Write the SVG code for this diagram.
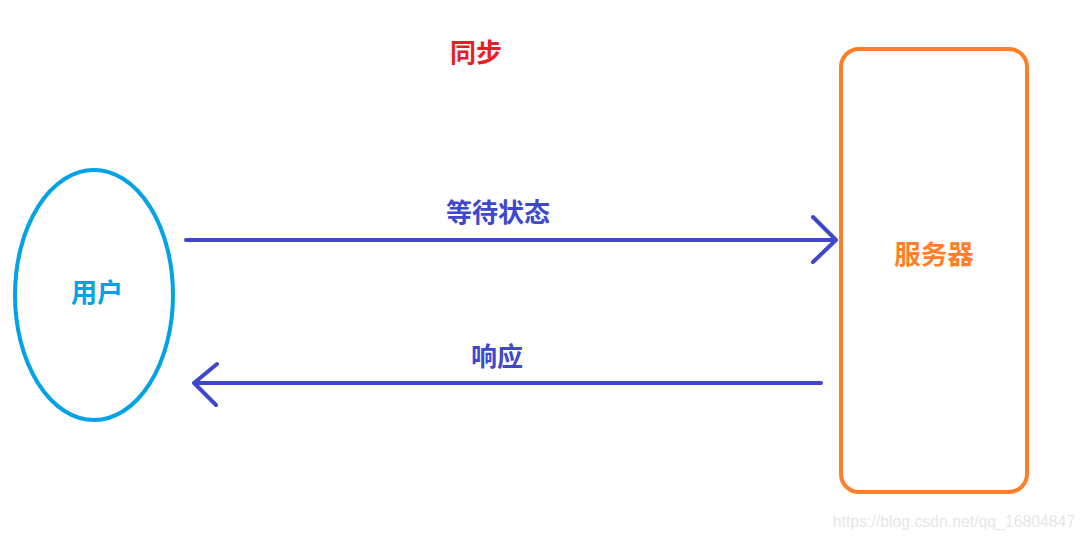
<svg xmlns="http://www.w3.org/2000/svg" width="1084" height="539" viewBox="0 0 1084 539">
<style>
text{font-family:"Noto Sans CJK SC","Noto Sans",sans-serif;font-weight:bold;text-anchor:middle;dominant-baseline:central}
.conn{stroke:#3f48cc;stroke-width:4;fill:none;stroke-linecap:round;stroke-linejoin:round}
.lbl{fill:#3f48cc;font-size:26px}
</style>
<rect width="1084" height="539" fill="#fff"/>
<text x="476" y="50" fill="#ed1c24" font-size="26">同步</text>
<g id="user">
<ellipse cx="94" cy="295" rx="79" ry="125" fill="none" stroke="#00a2e8" stroke-width="4"/>
<text x="97" y="290" fill="#00a2e8" font-size="26">用户</text>
</g>
<g id="server">
<rect x="841" y="49" width="186" height="443" rx="18" fill="none" stroke="#ff7f27" stroke-width="4"/>
<text x="934" y="252" fill="#ff7f27" font-size="26.5">服务器</text>
</g>
<g id="connectors">
<path class="conn" d="M186 240H836M813 217L836 240L813 262"/>
<text class="lbl" x="498" y="210">等待状态</text>
<path class="conn" d="M821 383H194M217 364L194 383L216 405"/>
<text class="lbl" x="497" y="354">响应</text>
</g>
<text x="954" y="521" fill="#e6e6e6" font-size="15.8" style="font-family:'Liberation Sans',sans-serif;font-weight:normal">https://blog.csdn.net/qq_16804847</text>
</svg>
